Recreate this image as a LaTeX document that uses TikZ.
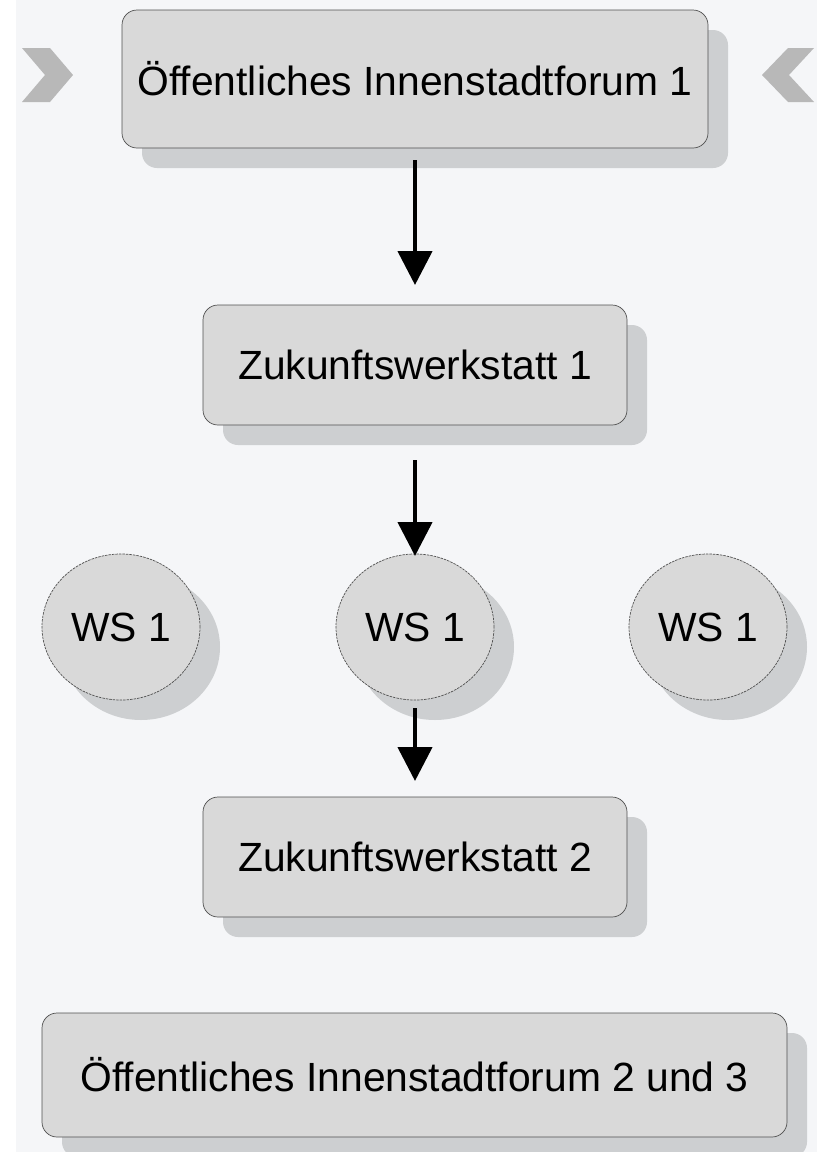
\documentclass[tikz,border=0pt]{standalone}
\usepackage{fontspec}
\setmainfont{Liberation Sans}
\usetikzlibrary{shapes.geometric,shadows,arrows.meta}
\definecolor{bgc}{HTML}{F5F6F8}
\definecolor{boxc}{HTML}{D9D9D9}
\definecolor{shc}{HTML}{CDCFD1}
\definecolor{edgec}{HTML}{505050}
\definecolor{chevc}{HTML}{B8B8B8}
\begin{document}
\begin{tikzpicture}[x=1pt,y=-1pt,
  lbl/.style={font=\fontsize{40.8}{48}\selectfont, text=black},
  boxn/.style={lbl, draw=edgec, line width=0.7pt, fill=boxc, rounded corners=15pt,
    drop shadow={shadow xshift=20pt, shadow yshift=-20pt, fill=shc, opacity=1, rounded corners=18pt},
    inner sep=0pt},
  circn/.style={lbl, ellipse, draw=edgec, line width=0.7pt, dash pattern=on 2.5pt off 1pt,
    fill=boxc, minimum width=158pt, minimum height=146pt, inner sep=0pt,
    drop shadow={shadow xshift=20pt, shadow yshift=-20pt, fill=shc, opacity=1, draw=none}},
  flow/.style={line width=4.5pt, -{Triangle[width=34pt,length=34pt]}},
  chev/.style={fill=chevc, draw=none}]
\fill[white] (0,0) rectangle (817,1152);
\fill[bgc] (16,0) rectangle (817,1152);
\useasboundingbox (0,0) rectangle (817,1152);

\node[boxn, minimum width=586pt, minimum height=138pt] (b1) at (415,79) {Öffentliches Innenstadtforum 1};
\node[boxn, minimum width=424pt, minimum height=120pt] (b2) at (415,365) {Zukunftswerkstatt 1};
\node[circn] (c1) at (121,627) {WS 1};
\node[circn] (c2) at (415,627) {WS 1};
\node[circn] (c3) at (708,627) {WS 1};
\node[boxn, minimum width=424pt, minimum height=120pt] (b3) at (415,857) {Zukunftswerkstatt 2};
\node[boxn, minimum width=745pt, minimum height=124pt] (b4) at (414.5,1075) {Öffentliches Innenstadtforum 2 und 3};

\coordinate (a1s) at (415,160);
\coordinate (a1e) at (415,285);
\coordinate (a2s) at (415,460);
\coordinate (a2e) at (415,556);
\coordinate (a3s) at (415,708);
\coordinate (a3e) at (415,781);
\draw[flow] (a1s) -- (a1e);
\draw[flow] (a2s) -- (a2e);
\draw[flow] (a3s) -- (a3e);

\fill[chev] (22,48) -- (50,48) -- (73,75) -- (50,102) -- (22,102) -- (45,75) -- cycle;
\fill[chev] (814,48) -- (788,48) -- (762,75) -- (788,102) -- (814,102) -- (789,75) -- cycle;
\end{tikzpicture}
\end{document}
